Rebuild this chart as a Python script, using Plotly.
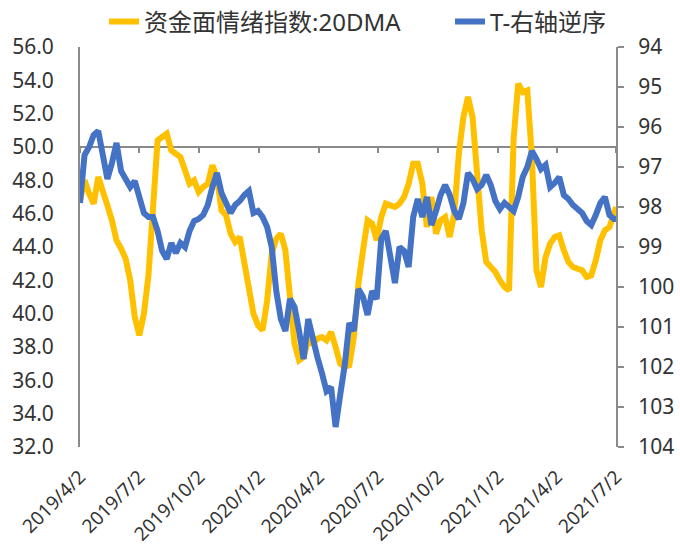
import pandas as pd
import plotly.graph_objects as go

# Weekly observations, 2019-04-02 .. 2021-06-29, plus the final day 2021-07-02
dates = list(pd.date_range("2019-04-02", periods=118, freq="7D")) + [pd.Timestamp("2021-07-02")]

# 资金面情绪指数 (20-day moving average), left axis
sentiment_20dma = [
    46.8, 48.0, 47.2, 46.6, 48.2, 47.2, 46.5, 45.6, 44.4, 43.9,
    43.3, 42.0, 39.8, 38.7, 40.0, 42.3, 46.8, 50.4, 50.6, 50.8,
    49.8, 49.6, 49.4, 48.6, 47.8, 48.0, 47.3, 47.6, 47.8, 48.9,
    48.2, 46.2, 45.9, 44.8, 44.3, 44.6, 43.0, 41.2, 40.0, 39.3,
    39.0, 40.8, 43.6, 44.5, 44.8, 43.8, 40.6, 38.2, 37.2, 37.4,
    38.4, 38.2, 38.5, 38.6, 38.4, 38.9, 38.0, 37.0, 36.8, 36.9,
    38.6, 41.8, 43.8, 45.6, 45.4, 44.4, 45.8, 46.6, 46.5, 46.4,
    46.6, 47.0, 47.8, 49.0, 49.0, 47.8, 45.2, 47.0, 44.8, 45.6,
    45.8, 44.6, 46.0, 49.6, 51.8, 53.0, 51.8, 48.4, 45.0, 43.1,
    42.8, 42.5, 42.0, 41.6, 41.4, 50.5, 53.8, 53.3, 53.4, 49.4,
    42.6, 41.6, 43.4, 44.2, 44.6, 44.7, 43.8, 43.1, 42.8, 42.7,
    42.6, 42.2, 42.3, 43.2, 44.4, 45.0, 45.2, 46.0, 46.4,
]

# T (10-year treasury futures) close, right axis, reversed
t_futures = [
    97.9, 96.7, 96.5, 96.2, 96.1, 96.8, 97.3, 96.9, 96.4, 97.1,
    97.3, 97.5, 97.35, 97.8, 98.15, 98.25, 98.25, 98.6, 99.1, 99.3,
    98.9, 99.15, 98.9, 99.0, 98.6, 98.35, 98.3, 98.2, 97.95, 97.5,
    97.15, 97.65, 97.95, 98.15, 97.95, 97.85, 97.7, 97.6, 98.15, 98.1,
    98.25, 98.5, 99.0, 100.1, 100.8, 101.1, 100.3, 100.5, 101.1, 101.8,
    100.8, 101.35, 101.75, 102.15, 102.6, 102.5, 103.5, 102.7, 101.95, 100.9,
    101.1, 100.05, 100.25, 100.7, 100.1, 100.3, 98.8, 98.6, 99.3, 99.9,
    99.0, 99.1, 99.5, 98.25, 97.8, 98.25, 97.75, 98.45, 98.1, 97.7,
    97.45, 97.7, 98.1, 98.3, 97.9, 97.15, 97.3, 97.55, 97.45, 97.2,
    97.45, 97.85, 98.05, 97.9, 98.0, 98.1, 97.75, 97.25, 97.0, 96.6,
    96.8, 97.05, 96.95, 97.5, 97.4, 97.25, 97.7, 97.8, 97.95, 98.05,
    98.15, 98.35, 98.45, 98.2, 97.9, 97.75, 98.2, 98.3, 98.3,
]

tick_dates = ["2019-04-02", "2019-07-02", "2019-10-02", "2020-01-02", "2020-04-02",
              "2020-07-02", "2020-10-02", "2021-01-02", "2021-04-02", "2021-07-02"]
tick_labels = ["2019/4/2", "2019/7/2", "2019/10/2", "2020/1/2", "2020/4/2",
               "2020/7/2", "2020/10/2", "2021/1/2", "2021/4/2", "2021/7/2"]

left_ticks = [32 + 2 * i for i in range(13)]
right_ticks = list(range(94, 105))
cross_level = 50.0  # category axis crosses the left axis here

YELLOW = "#FFC000"
BLUE = "#4472C4"
AXIS = "#8a8a8a"
TEXT = "#333333"
FONT = "Noto Sans, Noto Sans CJK SC, sans-serif"

fig = go.Figure()
fig.add_trace(go.Scatter(
    x=dates, y=sentiment_20dma, name="资金面情绪指数:20DMA",
    mode="lines", line=dict(color=YELLOW, width=6),
    xaxis="x", yaxis="y", legend="legend",
))
fig.add_trace(go.Scatter(
    x=dates, y=t_futures, name="T-右轴逆序",
    mode="lines", line=dict(color=BLUE, width=6),
    xaxis="x", yaxis="y2", legend="legend2",
))
# carrier for the crossing axis at 50
fig.add_trace(go.Scatter(
    x=[dates[0]], y=[cross_level], mode="markers",
    marker=dict(opacity=0), showlegend=False, hoverinfo="skip",
    xaxis="x2", yaxis="y",
))

x_range = [pd.Timestamp("2019-04-02"), pd.Timestamp("2021-07-02")]

legend_style = dict(
    orientation="h", xanchor="left",
    yref="container", y=1 - 22 / 554, yanchor="middle",
    font=dict(size=24, color=TEXT), bgcolor="rgba(0,0,0,0)",
)

fig.update_layout(
    width=680, height=554,
    margin=dict(l=80, r=64, t=47, b=107, autoexpand=False),
    paper_bgcolor="white", plot_bgcolor="white",
    font=dict(family=FONT, size=20, color=TEXT),
    showlegend=True,
    legend=dict(xref="container", x=104 / 680, **legend_style),
    legend2=dict(xref="container", x=450 / 680, **legend_style),
    xaxis=dict(
        type="date", range=x_range,
        tickvals=tick_dates, ticktext=tick_labels, tickangle=-45,
        showline=False, showgrid=False, zeroline=False, ticks="",
        ticklabelstandoff=14,
        tickfont=dict(size=19, color=TEXT),
    ),
    xaxis2=dict(
        type="date", overlaying="x", matches="x", anchor="free",
        position=(cross_level - 32) / (56 - 32),
        tickvals=tick_dates, showticklabels=False,
        showline=True, linecolor=AXIS, linewidth=2,
        ticks="outside", ticklen=5, tickwidth=2, tickcolor=AXIS,
        showgrid=False, zeroline=False, layer="below traces",
    ),
    yaxis=dict(
        range=[32, 56], tickvals=left_ticks, tickformat=".1f",
        showline=True, linecolor=AXIS, linewidth=2,
        ticks="", showgrid=False, zeroline=False,
        ticklabelstandoff=20,
        tickfont=dict(size=21, color=TEXT),
    ),
    yaxis2=dict(
        range=[104, 94], tickvals=right_ticks, overlaying="y", side="right",
        showline=True, linecolor=AXIS, linewidth=2,
        ticks="outside", ticklen=6, tickwidth=2, tickcolor=AXIS,
        showgrid=False, zeroline=False,
        ticklabelstandoff=10,
        tickfont=dict(size=21, color=TEXT),
    ),
)

fig.write_html("out.html")
